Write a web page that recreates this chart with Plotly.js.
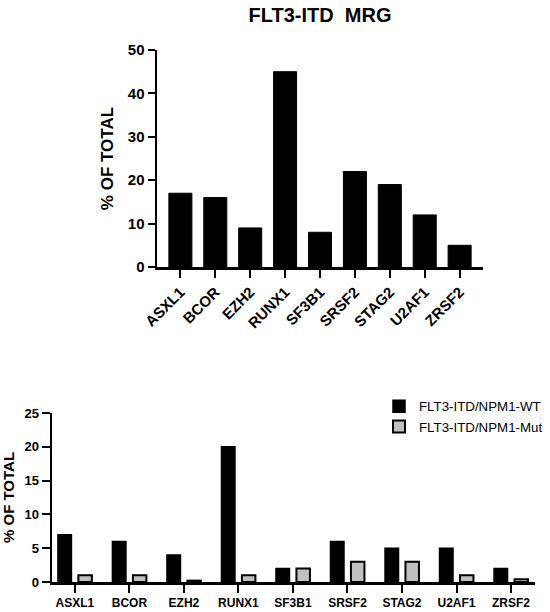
<!DOCTYPE html>
<html><head><meta charset="utf-8">
<script src="https://cdn.plot.ly/plotly-3.0.1.min.js"></script>
<style>html,body{margin:0;padding:0;background:#fff}#chart{width:550px;height:612px}</style>
</head><body><div id="chart"></div>
<script>
const genes = ['ASXL1','BCOR','EZH2','RUNX1','SF3B1','SRSF2','STAG2','U2AF1','ZRSF2'];
const mrgPercent = [17,16,9,45,8,22,19,12,5];
const npm1WtPercent = [7,6,4,20,2,6,5,5,2];
const npm1MutPercent = [1,1,0.2,1,2,3,3,1,0.4];
const seriesNames = ['FLT3-ITD/NPM1-WT','FLT3-ITD/NPM1-Mut'];
const chartTitle = 'FLT3-ITD\u00a0 MRG';
const yTitle = '% OF TOTAL';
const topYTicks = [0,10,20,30,40,50];
const bottomYTicks = [0,5,10,15,20,25];

const FONT = 'Liberation Sans, Arial, Helvetica, sans-serif';
const W = 550, H = 612;

function axisStyle(extra){
  return Object.assign({
    showline:true, linecolor:'#000', linewidth:2.5,
    ticks:'outside', ticklen:8, tickwidth:2, tickcolor:'#000',
    showgrid:false, zeroline:false, fixedrange:true,
    tickfont:{family:FONT, size:15, color:'#000', weight:'bold'}
  }, extra);
}

const data = [
  {type:'bar', x:genes, y:mrgPercent, xaxis:'x', yaxis:'y', width:0.66,
   marker:{color:'#000', line:{color:'#000', width:1}}, showlegend:false, hoverinfo:'skip'},
  {type:'bar', name:seriesNames[0], x:genes, y:npm1WtPercent, xaxis:'x2', yaxis:'y2',
   marker:{color:'#000', line:{color:'#000', width:1.5}}, hoverinfo:'skip'},
  {type:'bar', name:seriesNames[1], x:genes, y:npm1MutPercent, xaxis:'x2', yaxis:'y2',
   marker:{color:'#c0c0c0', line:{color:'#000', width:2}}, hoverinfo:'skip'}
];

const layout = {
  width:W, height:H, margin:{l:0,r:0,t:0,b:0},
  paper_bgcolor:'#fff', plot_bgcolor:'#fff',
  font:{family:FONT, color:'#000'},
  barmode:'group', bargap:0.25, bargroupgap:0.34,
  title:{text:chartTitle, x:320/W, xanchor:'center', xref:'paper',
         y:1-15/H, yanchor:'middle', yref:'paper',
         font:{family:FONT, size:20, weight:'bold', color:'#000'}},
  xaxis: axisStyle({domain:[157/W, 483/W], anchor:'y', range:[-0.67, 8.67], tickangle:-45}),
  yaxis: axisStyle({domain:[1-267/H, 1-50/H], anchor:'x', range:[0,50], tickvals:topYTicks, ticklen:7,
    title:{text:yTitle, standoff:10, font:{family:FONT, size:17, weight:'bold', color:'#000'}}}),
  xaxis2: axisStyle({domain:[52/W, 535/W], anchor:'y2', range:[-0.42, 8.44], tickangle:0,
    tickfont:{family:FONT, size:12, color:'#000', weight:'bold'}}),
  yaxis2: axisStyle({domain:[1-582/H, 1-413/H], anchor:'x2', range:[0,25], tickvals:bottomYTicks,
    tickfont:{family:FONT, size:13, color:'#000', weight:'bold'},
    title:{text:yTitle, standoff:10, font:{family:FONT, size:15, weight:'bold', color:'#000'}}}),
  legend:{x:379/W, xanchor:'left', y:1-391/H, yanchor:'top', bgcolor:'rgba(0,0,0,0)',
    font:{family:FONT, size:13.3, color:'#000'}, traceorder:'normal', itemgap:0},
  showlegend:true
};

Plotly.newPlot('chart', data, layout, {displayModeBar:false, staticPlot:true});
</script>
</body></html>
